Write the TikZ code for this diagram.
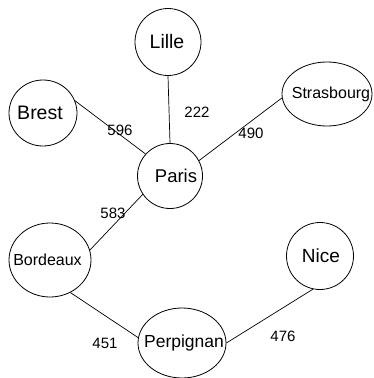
\documentclass[tikz,border=0pt]{standalone}
\usepackage{fontspec}
\setmainfont{Liberation Sans}
\usetikzlibrary{shapes.geometric}
\newcommand{\ctxt}[2]{\rlap{\hspace*{#1}\makebox[0pt]{#2}}}
\begin{document}
\begin{tikzpicture}[x=1pt,y=-1pt,
  city/.style={draw, ellipse, inner sep=0pt, line width=0.8pt},
  big/.style={font=\fontsize{19.5}{20}\selectfont},
  small/.style={font=\fontsize{16}{16}\selectfont},
  lbl/.style={font=\fontsize{15}{15}\selectfont, inner sep=0pt},
  road/.style={line width=0.7pt}]
\useasboundingbox (0,0) rectangle (373,378);
\node[city, big, minimum width=66pt, minimum height=67pt] (lille) at (168,42) {\ctxt{-1pt}{Lille}};
\node[city, big, minimum width=68pt, minimum height=66pt] (brest) at (43,113) {\ctxt{-3pt}{Brest}};
\node[city, small, minimum width=90pt, minimum height=64pt] (strasbourg) at (327,94) {\ctxt{4pt}{Strasbourg}};
\node[city, font=\fontsize{18.5}{19}\selectfont, minimum width=65pt, minimum height=65pt] (paris) at (170,176) {\ctxt{6pt}{Paris}};
\node[city, small, minimum width=82pt, minimum height=74pt] (bordeaux) at (50,260) {\ctxt{-2.5pt}{Bordeaux}};
\node[city, font=\fontsize{19}{19}\selectfont, minimum width=67pt, minimum height=67pt] (nice) at (320,256) {\ctxt{1pt}{Nice}};
\node[city, font=\fontsize{17.5}{18}\selectfont, minimum width=88pt, minimum height=70pt] (perpignan) at (182,343) {\ctxt{2pt}{Perpignan}};

\draw[road] (lille.south) -- (paris.north);
\draw[road] (brest.21) -- (paris.138);
\draw[road] (strasbourg.185) -- (paris.28);
\draw[road] (paris.214) -- (bordeaux.14);
\draw[road] (bordeaux.302) -- (perpignan.173);
\draw[road] (perpignan.east) -- (nice.258);

\node[lbl] (l222) at (197,112) {222};
\node[lbl] (l596) at (120,130) {596};
\node[lbl] (l490) at (251,133) {490};
\node[lbl] (l583) at (113,213) {583};
\node[lbl] (l451) at (105,343) {451};
\node[lbl] (l476) at (283,336) {476};
\end{tikzpicture}
\end{document}
